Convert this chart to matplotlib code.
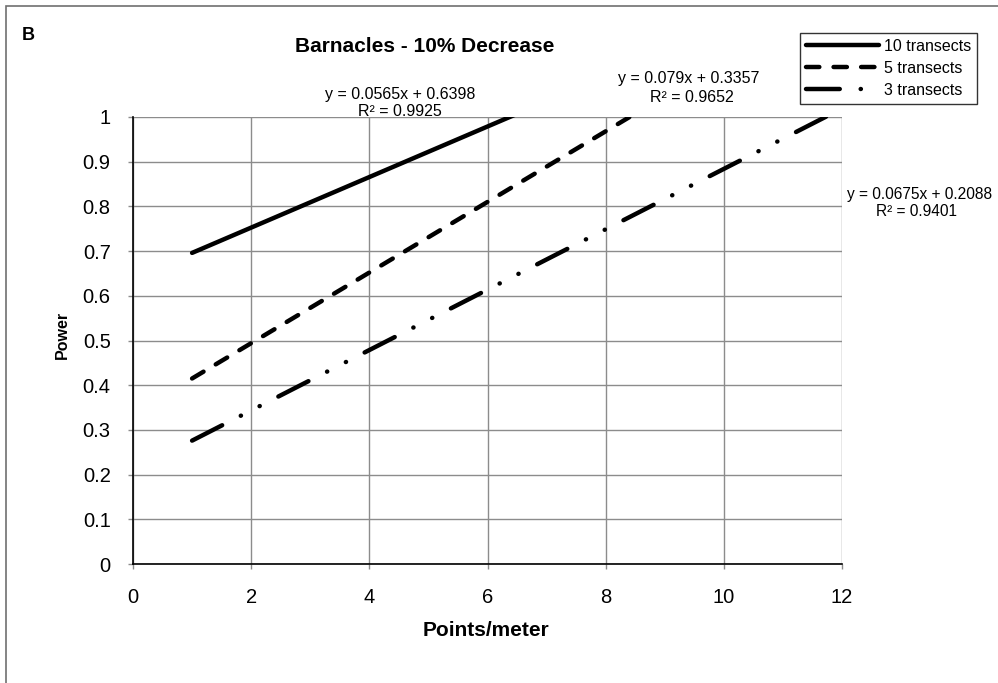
"""Barnacles power curves, 10% decrease (panel B)."""

import matplotlib

matplotlib.use("Agg")
import matplotlib.pyplot as plt
from matplotlib.patches import Rectangle

plt.rcParams["font.family"] = ["Liberation Sans", "DejaVu Sans"]

# trendline end points (clipped at power = 1)
x_fit = [1, 12]
power_10 = [0.696, 1.318]
power_5 = [0.415, 1.284]
power_3 = [0.276, 1.019]
series_labels = ["10 transects", "5 transects", "3 transects"]

eq_text = [
    ("y = 0.0565x + 0.6398", "R² = 0.9925"),
    ("y = 0.079x + 0.3357", "R² = 0.9652"),
    ("y = 0.0675x + 0.2088", "R² = 0.9401"),
]

x_ticks = [0, 2, 4, 6, 8, 10, 12]
y_ticks = [0, 0.1, 0.2, 0.3, 0.4, 0.5, 0.6, 0.7, 0.8, 0.9, 1]
y_tick_labels = ["0", "0.1", "0.2", "0.3", "0.4", "0.5", "0.6", "0.7", "0.8", "0.9", "1"]

W, H = 998, 683
fig = plt.figure(figsize=(W / 100, H / 100), dpi=100)


def fx(px):
    return px / W


def fy(py):
    return 1 - py / H


ax = fig.add_axes([fx(133), fy(564), fx(842) - fx(133), fy(117) - fy(564)])

lw = 3.2
ax.plot(x_fit, power_10, color="black", lw=lw, solid_capstyle="round",
        label=series_labels[0])
ax.plot(x_fit, power_5, color="black", lw=lw, dashes=(3, 3.2),
        dash_capstyle="round", label=series_labels[1])
ax.plot(x_fit, power_3, color="black", lw=lw,
        dashes=(7.6, 4.7, 0.05, 4.7, 0.05, 4.7), dash_capstyle="round",
        label=series_labels[2])

ax.set_xlim(0, 12)
ax.set_ylim(0, 1)
ax.set_xticks(x_ticks)
ax.set_yticks(y_ticks)
ax.set_yticklabels(y_tick_labels)
ax.grid(True, color="#8c8c8c", lw=1.0)
ax.set_axisbelow(True)
for side in ("top", "right"):
    ax.spines[side].set_visible(False)
for side in ("left", "bottom"):
    ax.spines[side].set_color("black")
    ax.spines[side].set_linewidth(1.2)
    ax.spines[side].set_zorder(5)
ax.tick_params(axis="both", direction="out", length=3.6, width=1,
               color="#8c8c8c", labelsize=14.5, labelcolor="black")
ax.tick_params(axis="x", pad=14)
ax.tick_params(axis="y", pad=12.5)

leg = ax.legend(loc="upper left", bbox_to_anchor=(fx(800), fy(33)),
                bbox_transform=fig.transFigure, borderaxespad=0,
                fontsize=11.5, frameon=True, fancybox=False,
                handlelength=4.6, handletextpad=0.3, labelspacing=0.45,
                borderpad=0.35)
leg.get_frame().set_edgecolor("black")
leg.get_frame().set_linewidth(1)

# text labels
fig.text(fx(28), fy(35), "B", fontsize=13, fontweight="bold",
         ha="center", va="center")
fig.text(fx(425), fy(46), "Barnacles - 10% Decrease", fontsize=15,
         fontweight="bold", ha="center", va="center")
fig.text(fx(486), fy(630), "Points/meter", fontsize=15, fontweight="bold",
         ha="center", va="center")
fig.text(fx(62), fy(335), "Power", fontsize=11.5, fontweight="bold",
         rotation=90, ha="center", va="center")

eq_pos = [((400, 94), (400, 112)), ((689, 79), (692, 97)), ((847, 194), (917, 212))]
eq_size = [11.5, 11.5, 11.2]
for (eq, r2), ((x1, y1), (x2, y2)), ha, fs in zip(
        eq_text, eq_pos, ["center", "center", "left"], eq_size):
    fig.text(fx(x1), fy(y1), eq, fontsize=fs, ha=ha, va="center")
    fig.text(fx(x2), fy(y2), r2, fontsize=fs, ha="center", va="center")

fig.patches.append(Rectangle((fx(6), -0.05), 1.1, fy(6) + 0.05,
                             transform=fig.transFigure, fill=False,
                             edgecolor="#707070", lw=1.2))

fig.savefig("out.png", dpi=100)
